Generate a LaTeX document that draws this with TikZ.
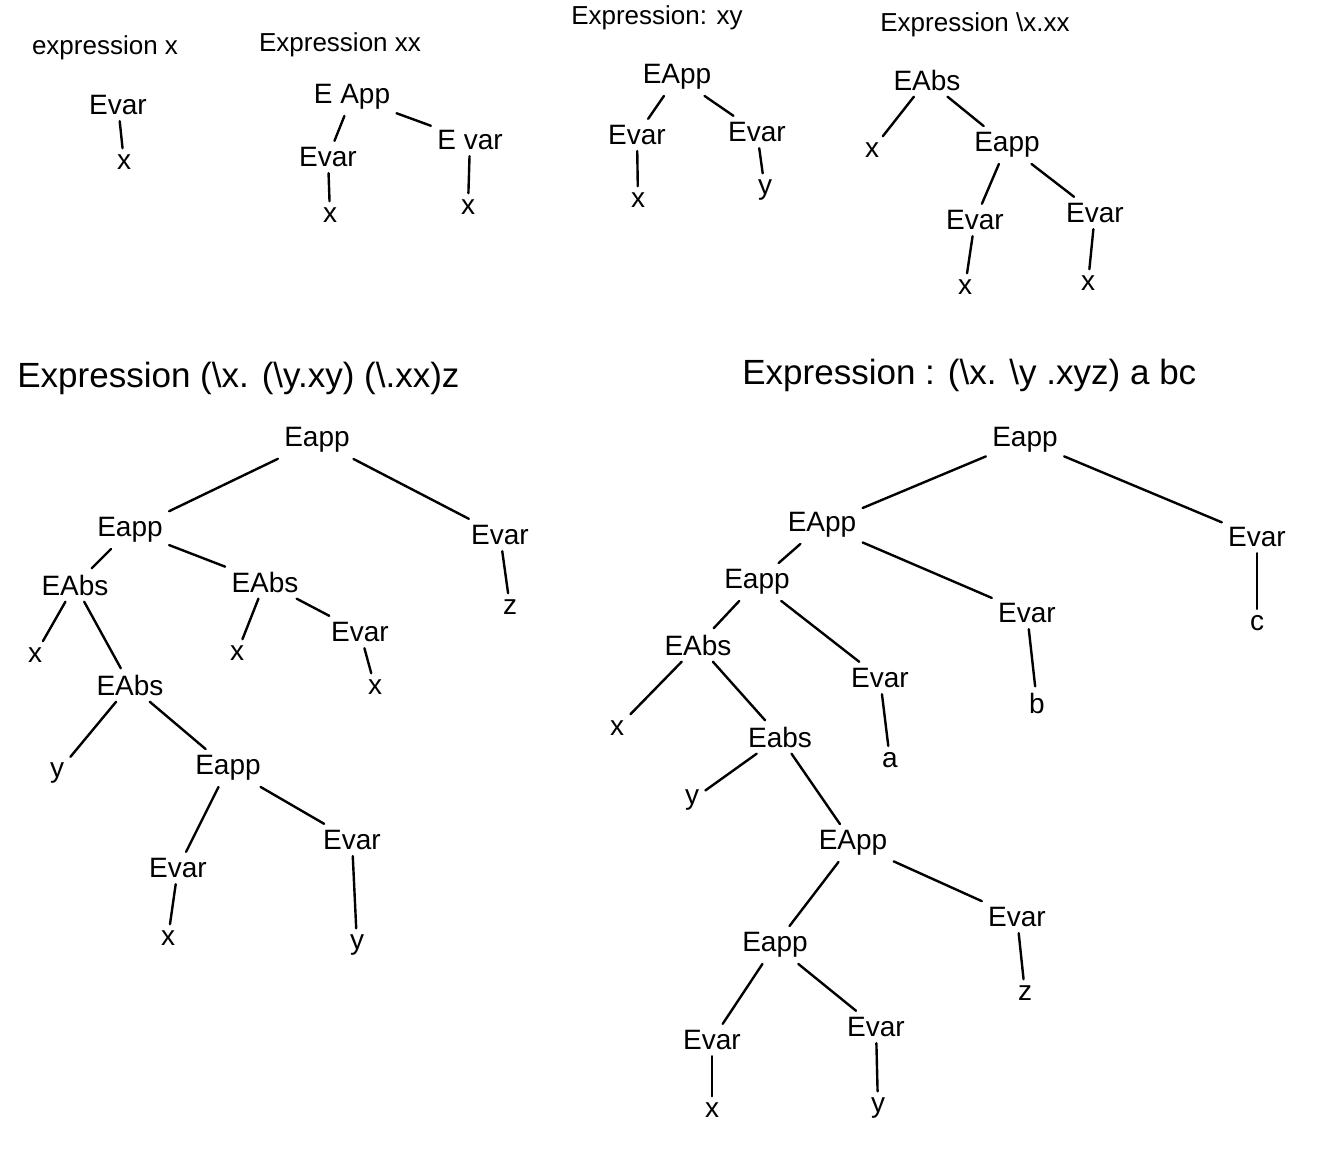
\documentclass[tikz,border=0pt]{standalone}
\usepackage{fontspec}
\setmainfont{Liberation Sans}
\usetikzlibrary{positioning}

\begin{document}
\begin{tikzpicture}[
    x=0.5pt, y=-0.5pt,
    tn/.style={font=\fontsize{14}{16}\selectfont, inner sep=3pt},   % tree node
    lf/.style={font=\fontsize{14}{16}\selectfont, inner sep=3pt},   % leaf variable
    ttl/.style={font=\fontsize{13}{15}\selectfont, inner sep=0pt},  % small heading
    bigttl/.style={font=\fontsize{17.5}{20}\selectfont, inner sep=0pt, anchor=west},
    br/.style={line width=1.2pt, line cap=round}
  ]
\useasboundingbox (0,0) rectangle (1341,1164);

% --- Tree 1: x ---
\node[ttl] (t1) at (105,48) {expression x};
\node[tn] (a1) at (118,105) {Evar};
\node[lf] (a2) at (124,162) {x};
\draw[br] (a1) -- (a2);

% --- Tree 2: xx ---
\node[ttl] (t2) at (340,45) {Expression xx};
\node[tn] (b1) at (352,97) {E App};
\node[tn] (b2) at (328,157) {Evar};
\node[lf] (b3) at (330,215) {x};
\node[tn] (b4) at (470,140) {E var};
\node[lf] (b5) at (468,207) {x};
\draw[br] (b1) -- (b2);
\draw[br] (b2) -- (b3);
\draw[br] (b1) -- (b4);
\draw[br] (b4) -- (b5);

% --- Tree 3: xy ---
\node[ttl] (t3) at (657,18) {Expression: xy};
\node[tn] (c1) at (677,77) {EApp};
\node[tn] (c2) at (637,135) {Evar};
\node[lf] (c3) at (638,200) {x};
\node[tn] (c4) at (757,132) {Evar};
\node[lf] (c5) at (765,190) {y};
\draw[br] (c1) -- (c2);
\draw[br] (c2) -- (c3);
\draw[br] (c1) -- (c4);
\draw[br] (c4) -- (c5);

% --- Tree 4: \x.xx ---
\node[ttl] (t4) at (975,25) {Expression \textbackslash x.xx};
\node[tn] (d1) at (927,80) {EAbs};
\node[lf] (d2) at (872,150) {x};
\node[tn] (d3) at (1007,145) {Eapp};
\node[tn] (d4) at (975,220) {Evar};
\node[lf] (d5) at (965,287) {x};
\node[tn] (d6) at (1095,213) {Evar};
\node[lf] (d7) at (1088,283) {x};
\draw[br] (d1) -- (d2);
\draw[br] (d1) -- (d3);
\draw[br] (d3) -- (d4);
\draw[br] (d4) -- (d5);
\draw[br] (d3) -- (d6);
\draw[br] (d6) -- (d7);

% --- Tree 5: (\x.(\y.xy)(\.xx))z ---
\node[bigttl] (t5) at (17,378) {Expression (\textbackslash x. (\textbackslash y.xy) (\textbackslash .xx)z};
\node[tn] (e1) at (317,440) {Eapp};
\node[tn] (e2) at (130,530) {Eapp};
\node[tn] (e3) at (500,535) {Evar};
\node[lf] (e4) at (510,607) {z};
\node[tn] (e5) at (75,585) {EAbs};
\node[tn] (e6) at (265,582) {EAbs};
\node[lf] (e7) at (35,655) {x};
\node[tn] (e8) at (130,685) {EAbs};
\node[lf] (e9) at (237,653) {x};
\node[tn] (e10) at (360,632) {Evar};
\node[lf] (e11) at (375,687) {x};
\node[lf] (e12) at (57,773) {y};
\node[tn] (e13) at (228,768) {Eapp};
\node[tn] (e14) at (178,868) {Evar};
\node[lf] (e15) at (168,938) {x};
\node[tn] (e16) at (352,840) {Evar};
\node[lf] (e17) at (357,945) {y};
\draw[br] (e1) -- (e2);
\draw[br] (e1) -- (e3);
\draw[br] (e3) -- (e4);
\draw[br] (e2) -- (e5);
\draw[br] (e2) -- (e6);
\draw[br] (e5) -- (e7);
\draw[br] (e5) -- (e8);
\draw[br] (e6) -- (e9);
\draw[br] (e6) -- (e10);
\draw[br] (e10) -- (e11);
\draw[br] (e8) -- (e12);
\draw[br] (e8) -- (e13);
\draw[br] (e13) -- (e14);
\draw[br] (e14) -- (e15);
\draw[br] (e13) -- (e16);
\draw[br] (e16) -- (e17);

% --- Tree 6: (\x.\y.xyz) a b c ---
\node[bigttl] (t6) at (742,375) {Expression : (\textbackslash x. \textbackslash y .xyz) a bc};
\node[tn] (f1) at (1025,440) {Eapp};
\node[tn] (f2) at (822,525) {EApp};
\node[tn] (f3) at (1257,537) {Evar};
\node[lf] (f4) at (1257,623) {c};
\node[tn] (f5) at (757,582) {Eapp};
\node[tn] (f6) at (1027,613) {Evar};
\node[lf] (f7) at (1037,703) {b};
\node[tn] (f8) at (698,645) {EAbs};
\node[tn] (f9) at (880,678) {Evar};
\node[lf] (f10) at (890,760) {a};
\node[lf] (f11) at (617,728) {x};
\node[tn] (f12) at (780,737) {Eabs};
\node[lf] (f13) at (692,800) {y};
\node[tn] (f14) at (853,843) {EApp};
\node[tn] (f15) at (775,945) {Eapp};
\node[tn] (f16) at (1017,917) {Evar};
\node[lf] (f17) at (1025,993) {z};
\node[tn] (f18) at (712,1040) {Evar};
\node[lf] (f19) at (712,1110) {x};
\node[tn] (f20) at (876,1027) {Evar};
\node[lf] (f21) at (878,1108) {y};
\draw[br] (f1) -- (f2);
\draw[br] (f1) -- (f3);
\draw[br] (f3) -- (f4);
\draw[br] (f2) -- (f5);
\draw[br] (f2) -- (f6);
\draw[br] (f6) -- (f7);
\draw[br] (f5) -- (f8);
\draw[br] (f5) -- (f9);
\draw[br] (f9) -- (f10);
\draw[br] (f8) -- (f11);
\draw[br] (f8) -- (f12);
\draw[br] (f12) -- (f13);
\draw[br] (f12) -- (f14);
\draw[br] (f14) -- (f15);
\draw[br] (f14) -- (f16);
\draw[br] (f16) -- (f17);
\draw[br] (f15) -- (f18);
\draw[br] (f18) -- (f19);
\draw[br] (f15) -- (f20);
\draw[br] (f20) -- (f21);

\end{tikzpicture}
\end{document}
